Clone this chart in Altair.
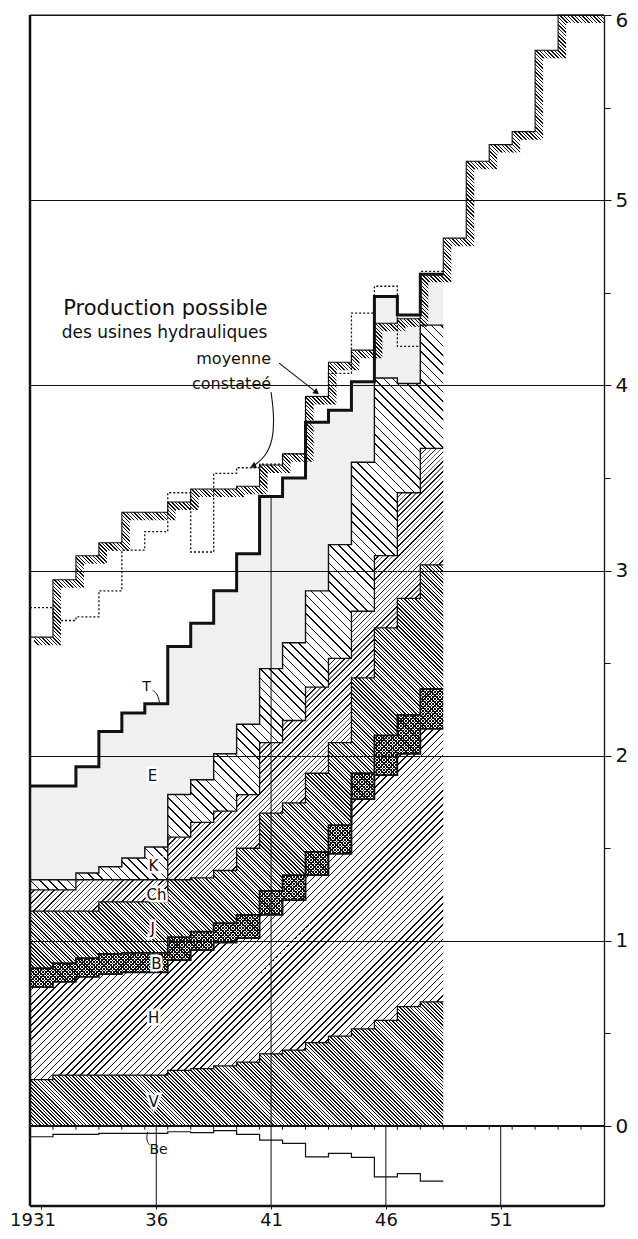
import math
import altair as alt
import pandas as pd

# ---------------- data (TWh) ----------------
YEARS = list(range(1931, 1949))
V_TOP  = [0.25, 0.275, 0.275, 0.275, 0.275, 0.275, 0.30, 0.31, 0.325, 0.345, 0.39, 0.41, 0.45, 0.485, 0.525, 0.57, 0.645, 0.67]
H_TOP  = [0.75, 0.778, 0.805, 0.82, 0.83, 0.83, 0.896, 0.95, 0.99, 1.015, 1.14, 1.22, 1.355, 1.47, 1.765, 1.895, 2.01, 2.145]
B_TOP  = [0.853, 0.88, 0.907, 0.93, 0.935, 0.935, 1.02, 1.05, 1.095, 1.14, 1.27, 1.355, 1.48, 1.625, 1.905, 2.11, 2.22, 2.36]
J_TOP  = [1.16, 1.16, 1.16, 1.21, 1.21, 1.21, 1.33, 1.34, 1.38, 1.50, 1.69, 1.745, 1.905, 2.07, 2.42, 2.69, 2.85, 3.03]
CH_TOP = [1.275, 1.275, 1.33, 1.33, 1.33, 1.33, 1.56, 1.64, 1.70, 1.79, 2.07, 2.19, 2.37, 2.525, 2.78, 3.08, 3.42, 3.66]
K_TOP  = [1.33, 1.33, 1.366, 1.40, 1.447, 1.507, 1.79, 1.87, 2.01, 2.17, 2.47, 2.61, 2.89, 3.14, 3.585, 4.04, 4.01, 4.325]
T_TOP  = [1.836, 1.836, 1.94, 2.13, 2.23, 2.28, 2.59, 2.715, 2.89, 3.09, 3.40, 3.50, 3.80, 3.865, 4.02, 4.48, 4.38, 4.60]
BE     = [-0.058, -0.045, -0.045, -0.04, -0.04, -0.04, -0.031, -0.036, -0.025, -0.045, -0.076, -0.094, -0.167, -0.148, -0.169, -0.275, -0.257, -0.298]

PROD_YEARS = list(range(1931, 1956))
PROD_MOY   = [2.64, 2.95, 3.08, 3.15, 3.315, 3.315, 3.37, 3.44, 3.44, 3.455, 3.57, 3.63, 3.94, 4.125, 4.19, 4.335, 4.36, 4.60, 4.795, 5.21, 5.30, 5.37, 5.81, 6.0, 6.0]
PROD_CONST = [2.80, 2.73, 2.75, 2.89, 3.11, 3.21, 3.42, 3.10, 3.525, 3.555, 3.575, 3.63, 3.94, 4.065, 4.39, 4.535, 4.21, 4.615]

X_TICKS = [1931, 1936, 1941, 1946, 1951]
X_TICK_LABELS = ["1931", "36", "41", "46", "51"]
Y_TICKS = [0, 0.5, 1, 1.5, 2, 2.5, 3, 3.5, 4, 4.5, 5, 5.5, 6]
VGRID_X = [1936, 1941, 1946, 1951]
VGRID_TOP = [0.0, 3.40, 0.0, 0.0]

LAYER_LABELS = ["E", "K", "Ch", "J", "B", "H", "V"]
LAYER_LABEL_X = [1935.84, 1935.88, 1936.01, 1935.84, 1936.01, 1935.88, 1935.88]
LAYER_LABEL_Y = [1.89, 1.404, 1.247, 1.064, 0.875, 0.583, 0.13]
T_LABEL = ("T", 1935.58, 2.37)
BE_LABEL = ("Be", 1936.10, -0.13)

ANNOT_TEXT = ["Production possible", "des usines hydrauliques", "moyenne", "constateé"]
ANNOT_X = [1936.40, 1936.36, 1941.0, 1941.0]
ANNOT_Y = [4.379, 4.255, 4.114, 3.98]

MOY_ARROW_X = [1941.35, 1942.95]
MOY_ARROW_Y = [4.12, 3.965]
CONST_ARROW_X = [1941.0, 1941.13, 1941.09, 1940.74, 1940.25]
CONST_ARROW_Y = [3.963, 3.839, 3.704, 3.612, 3.566]
T_HOOK_X = [1935.84, 1936.06, 1936.14]
T_HOOK_Y = [2.354, 2.333, 2.289]
BE_HOOK_X = [1935.62, 1935.56, 1935.71]
BE_HOOK_Y = [-0.032, -0.076, -0.103]

# ---------------- layout ----------------
X_MIN, X_MAX = 1930.5, 1955.5
Y_MIN, Y_MAX = -0.432, 6.0
PLOT_W, PLOT_H = 574, 1191
PX_YEAR = PLOT_W / (X_MAX - X_MIN)
PX_UNIT = PLOT_H / (Y_MAX - Y_MIN)
FONT = "DejaVu Sans"
INK = "#111111"
CLEAR = "rgba(0,0,0,0)"

XS = alt.Scale(domain=[X_MIN, X_MAX], nice=False, zero=False)
YS = alt.Scale(domain=[Y_MIN, Y_MAX], nice=False, zero=False)

x_label_expr = " : ".join(f"datum.value == {v} ? '{l}'" for v, l in zip(X_TICKS, X_TICK_LABELS)) + " : ''"
X_AXIS = alt.Axis(values=X_TICKS, labelExpr=x_label_expr, domain=False, grid=False,
                  ticks=True, tickSize=3, tickColor=INK, labelFont=FONT, labelFontSize=18,
                  labelColor=INK, labelPadding=2, title=None,
                  labelOffset=alt.condition("datum.value == 1931", alt.value(-9), alt.value(0)))
Y_AXIS = alt.Axis(orient="right", values=Y_TICKS,
                  labelExpr="datum.value % 1 == 0 ? format(datum.value, 'd') : ''",
                  grid=True, gridColor=INK, gridWidth=1,
                  gridOpacity=alt.condition("datum.value % 1 == 0", alt.value(1), alt.value(0)),
                  tickSize=alt.condition("datum.value % 1 == 0", alt.value(7), alt.value(6)),
                  tickColor=INK, tickWidth=1, domainColor=INK, domainWidth=1.3,
                  labelFont=FONT, labelFontSize=20, labelColor=INK, labelPadding=4, title=None,
                  labelOffset=alt.condition("datum.value == 6", alt.value(5), alt.value(0)))


def xq(field="x"):
    return alt.X(f"{field}:Q", scale=XS, axis=X_AXIS)


def yq(field):
    return alt.Y(f"{field}:Q", scale=YS, axis=Y_AXIS)


def step_frame(years, **cols):
    d = {"x": [y - 0.5 for y in years] + [years[-1] + 0.5]}
    for k, v in cols.items():
        d[k] = list(v) + [v[-1]]
    return pd.DataFrame(d)


def hatch(W, H, spacing, lines, direction):
    """Striped linear gradient (objectBoundingBox) giving 45deg hatching."""
    D = W + H
    a = D / (W * W + H * H)
    period = spacing * math.sqrt(2) / D
    n = int(math.ceil(1 / period))
    stops = []
    for i in range(n):
        base = i * period
        for off, w, col in lines:
            s = base + off * period
            if s >= 1:
                continue
            e = min(s + (w / spacing) * period, 1.0)
            stops += [(s, CLEAR), (s, col), (e, col), (e, CLEAR)]
    if direction == "/":
        x1, y1, x2, y2 = 0, 0, a * W, a * H
    else:
        x1, y1, x2, y2 = 0, 1, a * W, 1 - a * H
    return {
        "gradient": "linear",
        "x1": round(x1, 6), "y1": round(y1, 6), "x2": round(x2, 6), "y2": round(y2, 6),
        "stops": [{"offset": round(o, 5), "color": c} for o, c in stops],
    }


stack = step_frame(YEARS, zero=[0.0] * len(YEARS), v=V_TOP, h=H_TOP, b=B_TOP,
                   j=J_TOP, ch=CH_TOP, k=K_TOP, t=T_TOP)
STACK_W = len(YEARS) * PX_YEAR


def hatched_area(lo, hi, spacing, lines, direction):
    H = (stack[hi].max() - stack[lo].min()) * PX_UNIT
    g = hatch(STACK_W, H, spacing, lines, direction)
    return alt.Chart(stack).mark_area(interpolate="step-after", fill=g, opacity=1).encode(
        x=xq(), y=yq(hi), y2=alt.Y2(f"{lo}:Q"))


layers = []

# stacked areas
layers.append(alt.Chart(stack).mark_area(interpolate="step-after", fill="black", fillOpacity=0.06).encode(
    x=xq(), y=yq("t"), y2=alt.Y2("k:Q")))
layers.append(hatched_area("ch", "k", 6.5, [(0, 1.1, INK)], "\\"))
layers.append(hatched_area("j", "ch", 7.0, [(0, 1.1, INK), (0.5, 0.8, "#777777")], "/"))
layers.append(hatched_area("b", "j", 2.6, [(0, 1.0, INK)], "\\"))
layers.append(hatched_area("h", "b", 2.4, [(0, 1.05, INK)], "\\"))
layers.append(hatched_area("h", "b", 2.4, [(0, 1.05, INK)], "/"))
layers.append(hatched_area("v", "h", 5.0, [(0, 1.0, INK)], "/"))
layers.append(hatched_area("zero", "v", 2.5, [(0, 1.0, INK)], "\\"))

# vertical grid lines
vg = pd.DataFrame({"x": VGRID_X, "lo": [Y_MIN] * len(VGRID_X), "hi": VGRID_TOP})
layers.append(alt.Chart(vg).mark_rule(color=INK, strokeWidth=1).encode(
    x=xq(), y=yq("lo"), y2=alt.Y2("hi:Q")))


def step_line(df, field, width, dash=None):
    kw = dict(interpolate="step-after", color=INK, strokeWidth=width)
    if dash:
        kw["strokeDash"] = dash
    return alt.Chart(df).mark_line(**kw).encode(x=xq(), y=yq(field))


for f, w in [("v", 1.3), ("h", 1.8), ("b", 1.8), ("j", 1.3), ("ch", 1.3), ("k", 1.4)]:
    layers.append(step_line(stack, f, w))

# production possible (moyenne) : hatched band under the staircase
prod = step_frame(PROD_YEARS, moy=PROD_MOY)
bandW = len(PROD_YEARS) * PX_YEAR
bandH = (max(PROD_MOY) - min(PROD_MOY)) * PX_UNIT
band_grad = hatch(bandW, bandH, 2.6, [(0, 1.0, INK)], "\\")
layers.append(alt.Chart(prod).mark_line(interpolate="step-after", stroke=band_grad, strokeWidth=8,
                                        xOffset=4, yOffset=4, clip=True, strokeCap="butt").encode(
    x=xq(), y=yq("moy")))
layers.append(step_line(prod, "moy", 1.1))

# total (T) bold line
layers.append(step_line(stack, "t", 3.0))

# production constatee (dotted)
const = step_frame(YEARS, c=PROD_CONST)
layers.append(step_line(const, "c", 1.3, dash=[2, 2]))

# Be (below zero)
be = step_frame(YEARS, be=BE)
layers.append(step_line(be, "be", 1.2))

# frame: left, bottom, zero line, top
frame_v = pd.DataFrame({"x": [X_MIN], "lo": [Y_MIN], "hi": [Y_MAX]})
layers.append(alt.Chart(frame_v).mark_rule(color=INK, strokeWidth=2.5).encode(
    x=xq(), y=yq("lo"), y2=alt.Y2("hi:Q")))
frame_h = pd.DataFrame({"y": [Y_MIN, 0.0, Y_MAX], "x0": [X_MIN] * 3, "x1": [X_MAX] * 3,
                        "w": [2.5, 2.2, 1.2]})
layers.append(alt.Chart(frame_h).mark_rule(color=INK).encode(
    y=yq("y"), x=xq("x0"), x2=alt.X2("x1:Q"),
    strokeWidth=alt.StrokeWidth("w:Q", scale=None)))

# year ticks along the zero line
yt = pd.DataFrame({"x": [X_MIN + k for k in range(1, int(X_MAX - X_MIN))]})
yt["lo"] = 0.0
yt["hi"] = -0.02
layers.append(alt.Chart(yt).mark_rule(color=INK, strokeWidth=1).encode(
    x=xq(), y=yq("lo"), y2=alt.Y2("hi:Q")))


# arrows / hooks
def poly(xs, ys, width=1.1):
    df = pd.DataFrame({"x": xs, "y": ys, "i": list(range(len(xs)))})
    return alt.Chart(df).mark_line(color=INK, strokeWidth=width, interpolate="basis").encode(
        x=xq(), y=yq("y"), order="i:Q")


layers.append(poly(MOY_ARROW_X, MOY_ARROW_Y))
layers.append(poly(CONST_ARROW_X, CONST_ARROW_Y))
layers.append(poly(T_HOOK_X, T_HOOK_Y, 1.0))
layers.append(poly(BE_HOOK_X, BE_HOOK_Y, 1.0))
heads = pd.DataFrame({"x": [MOY_ARROW_X[-1], CONST_ARROW_X[-1]],
                      "y": [MOY_ARROW_Y[-1], CONST_ARROW_Y[-1]],
                      "a": [128, 243]})
layers.append(alt.Chart(heads).mark_point(shape="triangle", filled=True, color=INK, size=45, opacity=1).encode(
    x=xq(), y=yq("y"), angle=alt.Angle("a:Q", scale=None)))

# layer labels with white halo
lab = pd.DataFrame({"t": LAYER_LABELS, "x": LAYER_LABEL_X, "y": LAYER_LABEL_Y})
layers.append(alt.Chart(lab).mark_text(font=FONT, fontSize=15, stroke="white", strokeWidth=5,
                                       fill="white", baseline="middle").encode(
    x=xq(), y=yq("y"), text="t:N"))
layers.append(alt.Chart(lab).mark_text(font=FONT, fontSize=15, fill=INK, baseline="middle").encode(
    x=xq(), y=yq("y"), text="t:N"))
extra = pd.DataFrame({"t": [T_LABEL[0], BE_LABEL[0]], "x": [T_LABEL[1], BE_LABEL[1]],
                      "y": [T_LABEL[2], BE_LABEL[2]]})
layers.append(alt.Chart(extra).mark_text(font=FONT, fontSize=14, fill=INK, baseline="middle").encode(
    x=xq(), y=yq("y"), text="t:N"))

# annotation texts
ann = pd.DataFrame({"t": ANNOT_TEXT, "x": ANNOT_X, "y": ANNOT_Y})
layers.append(alt.Chart(ann.iloc[[0]]).mark_text(font=FONT, fontSize=21, fill=INK, align="center",
                                                  baseline="alphabetic").encode(
    x=xq(), y=yq("y"), text="t:N"))
layers.append(alt.Chart(ann.iloc[[1]]).mark_text(font=FONT, fontSize=17, fill=INK, align="center",
                                                  baseline="alphabetic").encode(
    x=xq(), y=yq("y"), text="t:N"))
layers.append(alt.Chart(ann.iloc[[2, 3]]).mark_text(font=FONT, fontSize=16, fill=INK, align="right",
                                                     baseline="alphabetic").encode(
    x=xq(), y=yq("y"), text="t:N"))

chart = alt.layer(*layers).properties(
    width=PLOT_W, height=PLOT_H,
    padding={"left": 22, "top": 7, "right": 26, "bottom": 22},
    autosize=alt.AutoSizeParams(type="none"),
).configure_view(strokeWidth=0).configure(background="white")

chart.save("out.html", embed_options={"renderer": "svg", "actions": False})
